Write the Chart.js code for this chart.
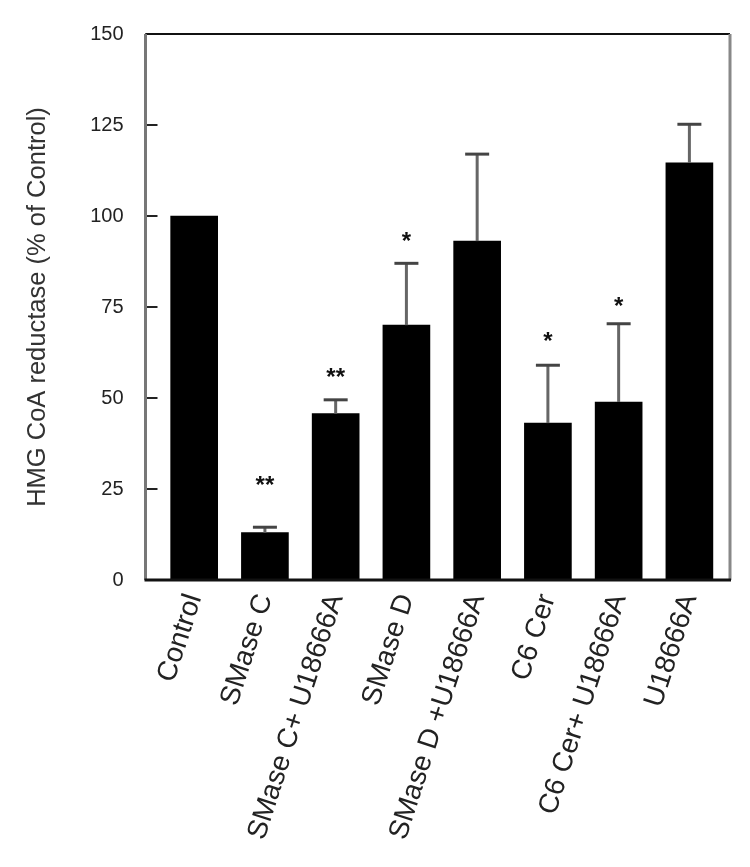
<!DOCTYPE html>
<html>
<head>
<meta charset="utf-8">
<script src="https://cdn.jsdelivr.net/npm/chart.js@4.4.1/dist/chart.umd.min.js"></script>
<style>
  html, body { margin: 0; padding: 0; background: #fff; }
  #wrap { width: 750px; height: 867px; position: relative; }
</style>
</head>
<body>
<div id="wrap"><canvas id="c" width="750" height="867"></canvas></div>
<script>
// ---- data ----
const categories = ["Control", "SMase C", "SMase C+ U18666A", "SMase D", "SMase D +U18666A", "C6 Cer", "C6 Cer+ U18666A", "U18666A"];
const means      = [100, 13, 45.7, 70, 93.1, 43.1, 48.9, 114.6];
const errorTops  = [null, 14.5, 49.5, 87, 117, 59, 70.4, 125.2];
const starLabels = ["", "**", "**", "*", "", "*", "*", ""];
const starLevels = [null, 27.5, 57, 94.5, null, 67, 76.5, null];
const yTicks     = [0, 25, 50, 75, 100, 125, 150];
const yTitle     = "HMG CoA reductase (% of Control)";

const FONT = "'Liberation Sans', Arial, Helvetica, sans-serif";

const barData = categories.map((c, i) => ({ x: i + 1, y: means[i] }));

const decorPlugin = {
  id: 'decor',
  afterDatasetsDraw(chart) {
    const ctx = chart.ctx;
    const xs = chart.scales.x, ys = chart.scales.y;
    ctx.save();
    // error bars (upper only)
    errorTops.forEach((t, i) => {
      if (t == null) return;
      const px = xs.getPixelForValue(i + 1);
      const py0 = ys.getPixelForValue(means[i]);
      const py1 = ys.getPixelForValue(t);
      ctx.strokeStyle = '#666';
      ctx.lineWidth = 3;
      ctx.beginPath(); ctx.moveTo(px, py0); ctx.lineTo(px, py1); ctx.stroke();
      ctx.strokeStyle = '#444';
      ctx.beginPath(); ctx.moveTo(px - 12, py1); ctx.lineTo(px + 12, py1); ctx.stroke();
    });
    // significance stars
    ctx.fillStyle = '#111';
    ctx.font = "bold 24px " + FONT;
    ctx.textAlign = 'center';
    ctx.textBaseline = 'middle';
    starLabels.forEach((s, i) => {
      if (!s) return;
      const px = xs.getPixelForValue(i + 1);
      const py = ys.getPixelForValue(starLevels[i]);
      ctx.fillText(s, px, py + 6);
    });
    ctx.restore();
  },
  afterDraw(chart) {
    const ctx = chart.ctx;
    const a = chart.chartArea;
    const ys = chart.scales.y;
    ctx.save();
    // inward tick marks on the y axis
    ctx.strokeStyle = '#222';
    ctx.lineWidth = 2;
    ys.ticks.forEach(t => {
      const py = Math.round(ys.getPixelForValue(t.value));
      ctx.beginPath(); ctx.moveTo(a.left, py); ctx.lineTo(a.left + 12, py); ctx.stroke();
    });
    // frame
    ctx.lineWidth = 2;
    ctx.strokeStyle = '#111';
    ctx.beginPath(); ctx.moveTo(a.left, a.top); ctx.lineTo(a.right, a.top); ctx.stroke();
    ctx.lineWidth = 3;
    ctx.strokeStyle = '#777';
    ctx.beginPath(); ctx.moveTo(a.left, a.top); ctx.lineTo(a.left, a.bottom); ctx.stroke();
    ctx.strokeStyle = '#888';
    ctx.beginPath(); ctx.moveTo(a.right, a.top); ctx.lineTo(a.right, a.bottom); ctx.stroke();
    ctx.strokeStyle = '#111';
    ctx.beginPath(); ctx.moveTo(a.left - 1, a.bottom); ctx.lineTo(a.right + 1, a.bottom); ctx.stroke();
    ctx.restore();
  }
};

new Chart(document.getElementById('c'), {
  type: 'bar',
  data: {
    datasets: [{
      data: barData,
      backgroundColor: '#000',
      borderWidth: 0,
      barThickness: 47
    }]
  },
  options: {
    responsive: false,
    animation: false,
    layout: { padding: { left: 0, top: 33, right: 20, bottom: 0 } },
    plugins: { legend: { display: false }, tooltip: { enabled: false } },
    scales: {
      x: {
        type: 'linear',
        offset: false,
        min: 0.312,
        max: 8.574,
        grid: { display: false, drawTicks: false, offset: false },
        border: { display: false },
        afterBuildTicks: axis => { axis.ticks = categories.map((c, i) => ({ value: i + 1 })); },
        afterFit: scale => { scale.height = 287; },
        ticks: {
          autoSkip: false,
          minRotation: 72,
          maxRotation: 72,
          padding: 10,
          color: '#222',
          font: { family: FONT, size: 28 },
          callback: (v) => categories[Math.round(v) - 1] || ''
        }
      },
      y: {
        min: 0,
        max: 150,
        grid: { display: false, drawTicks: false },
        border: { display: false },
        afterBuildTicks: axis => { axis.ticks = yTicks.map(v => ({ value: v })); },
        afterFit: scale => { scale.width = 145.5; },
        ticks: {
          padding: 22,
          color: '#222',
          font: { family: FONT, size: 20 }
        },
        title: {
          display: true,
          text: yTitle,
          color: '#333',
          font: { family: FONT, size: 25.5 },
          padding: { top: 23, bottom: 0 }
        }
      }
    }
  },
  plugins: [decorPlugin]
});
</script>
</body>
</html>
